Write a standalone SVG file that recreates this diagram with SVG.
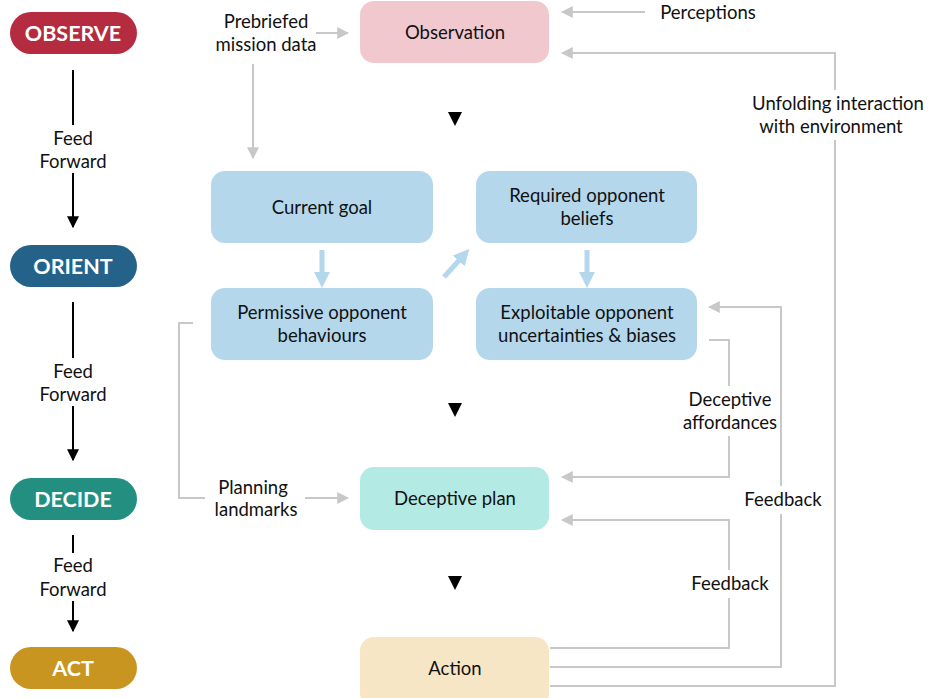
<svg xmlns="http://www.w3.org/2000/svg" width="929" height="698" viewBox="0 0 929 698">
<style>
text{font-family:Lato,"Open Sans","Liberation Sans",sans-serif;font-size:18.5px;fill:#111;text-anchor:middle}
.pill text{font-size:21.5px;font-weight:bold;fill:#fff}
.g{fill:none;stroke:#c8c8c8;stroke-width:2}
.k{fill:none;stroke:#000;stroke-width:2}
.b{fill:none;stroke:#b4d7eb;stroke-width:5}
</style>
<defs>
<marker id="ag" viewBox="0 0 10 10" refX="9" refY="5" markerWidth="12" markerHeight="12" markerUnits="userSpaceOnUse" orient="auto"><path d="M0,0L10,5L0,10z" fill="#c8c8c8"/></marker>
<marker id="ak" viewBox="0 0 10 10" refX="9" refY="5" markerWidth="12" markerHeight="12" markerUnits="userSpaceOnUse" orient="auto"><path d="M0,0L10,5L0,10z" fill="#000"/></marker>
<marker id="ab" viewBox="0 0 10 10" refX="5" refY="5" markerWidth="16" markerHeight="16" markerUnits="userSpaceOnUse" orient="auto"><path d="M0,0L10,5L0,10z" fill="#b4d7eb"/></marker>
</defs>
<g id="stage-observe" class="pill"><rect x="10" y="12" width="127" height="42" rx="21" fill="#b52b40"/><text x="73" y="41">OBSERVE</text></g>
<g id="stage-orient" class="pill"><rect x="10" y="245" width="127" height="42" rx="21" fill="#24628a"/><text x="73" y="274">ORIENT</text></g>
<g id="stage-decide" class="pill"><rect x="10" y="478" width="127" height="42" rx="21" fill="#238f80"/><text x="73" y="507">DECIDE</text></g>
<g id="stage-act" class="pill"><rect x="10" y="647" width="127" height="42" rx="21" fill="#c99521"/><text x="73" y="676">ACT</text></g>
<g id="observation"><rect x="360" y="1" width="189" height="62" rx="14" fill="#f2c8cf"/><text x="455" y="39">Observation</text></g>
<g id="current-goal"><rect x="211" y="171" width="222" height="72" rx="14" fill="#b4d7eb"/><text x="322" y="214">Current goal</text></g>
<g id="required-beliefs"><rect x="476" y="171" width="221" height="72" rx="14" fill="#b4d7eb"/><text x="587" y="202">Required opponent</text><text x="587" y="225">beliefs</text></g>
<g id="permissive"><rect x="211" y="288" width="222" height="72" rx="14" fill="#b4d7eb"/><text x="322" y="319">Permissive opponent</text><text x="322" y="342">behaviours</text></g>
<g id="exploitable"><rect x="476" y="288" width="221" height="72" rx="14" fill="#b4d7eb"/><text x="587" y="319">Exploitable opponent</text><text x="587" y="342">uncertainties &amp; biases</text></g>
<g id="deceptive-plan"><rect x="360" y="467" width="189" height="63" rx="14" fill="#b3ebe4"/><text x="455" y="505">Deceptive plan</text></g>
<g id="action"><rect x="360" y="637" width="189" height="70" rx="14" fill="#f7e6c5"/><text x="455" y="675">Action</text></g>
<g id="connectors">
<line class="k" x1="73" y1="70" x2="73" y2="125"/><line class="k" x1="73" y1="173" x2="73" y2="227" marker-end="url(#ak)"/>
<line class="k" x1="73" y1="302" x2="73" y2="358"/><line class="k" x1="73" y1="406" x2="73" y2="460" marker-end="url(#ak)"/>
<line class="k" x1="73" y1="535" x2="73" y2="553"/><line class="k" x1="73" y1="601" x2="73" y2="631" marker-end="url(#ak)"/>
<path d="M448,112h14l-7,14z" fill="#000"/>
<path d="M448,403h14l-7,14z" fill="#000"/>
<path d="M448,576h14l-7,14z" fill="#000"/>
<line class="b" x1="322" y1="250" x2="322" y2="280" marker-end="url(#ab)"/>
<line class="b" x1="587" y1="250" x2="587" y2="280" marker-end="url(#ab)"/>
<line class="b" x1="444" y1="277" x2="464" y2="255" marker-end="url(#ab)"/>
<line class="g" x1="316" y1="33" x2="348" y2="33" marker-end="url(#ag)"/>
<line class="g" x1="253" y1="64" x2="253" y2="158" marker-end="url(#ag)"/>
<line class="g" x1="645" y1="12" x2="562" y2="12" marker-end="url(#ag)"/>
<path class="g" d="M550,686H835V140M835,90V53H562" marker-end="url(#ag)"/>
<path class="g" d="M550,667H781V514M781,486V307H709" marker-end="url(#ag)"/>
<path class="g" d="M550,648H729V598M729,570V520H562" marker-end="url(#ag)"/>
<path class="g" d="M709,340H729V386M729,436V477H562" marker-end="url(#ag)"/>
<path class="g" d="M193,323H179V498H205"/>
<line class="g" x1="305" y1="498" x2="348" y2="498" marker-end="url(#ag)"/>
</g>
<g id="labels">
<text x="73" y="145">Feed</text><text x="73" y="168">Forward</text>
<text x="73" y="378">Feed</text><text x="73" y="401">Forward</text>
<text x="73" y="572">Feed</text><text x="73" y="596">Forward</text>
<text x="266" y="28">Prebriefed</text><text x="266" y="51">mission data</text>
<text x="708" y="19">Perceptions</text>
<text x="838" y="110">Unfolding interaction</text><text x="831" y="133">with environment</text>
<text x="783" y="506">Feedback</text>
<text x="730" y="590">Feedback</text>
<text x="730" y="406">Deceptive</text><text x="730" y="429">affordances</text>
<text x="253" y="494">Planning</text><text x="256" y="516">landmarks</text>
</g>
</svg>
